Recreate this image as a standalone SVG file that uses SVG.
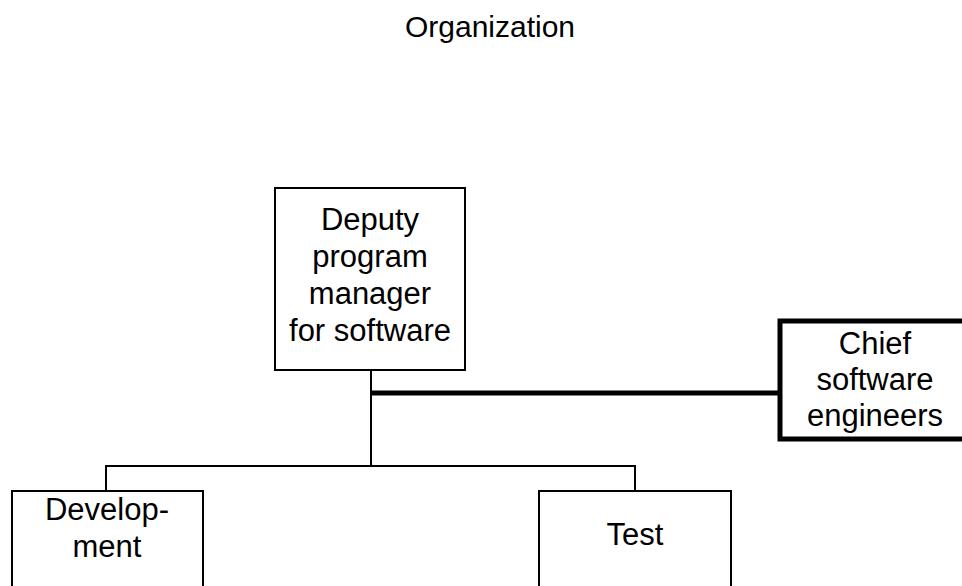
<svg xmlns="http://www.w3.org/2000/svg" width="962" height="586" viewBox="0 0 962 586">
<style>
text{font-family:"Liberation Sans",Arial,sans-serif;font-size:31px;fill:#000;text-anchor:middle}
.box{fill:#fff;stroke:#000;stroke-width:2}
.thick{fill:#fff;stroke:#000;stroke-width:5}
.ln{fill:none;stroke:#000;stroke-width:2}
.tl{fill:none;stroke:#000;stroke-width:5}
</style>
<rect width="962" height="586" fill="#fff"/>
<text id="title" x="490" y="37" style="font-size:30px">Organization</text>
<g id="connectors">
<line class="ln" x1="371" y1="370" x2="371" y2="466"/>
<line class="tl" x1="371" y1="393" x2="780" y2="393"/>
<polyline class="ln" points="106,491 106,466 635,466 635,491"/>
</g>
<g id="deputy">
<rect class="box" x="275" y="188" width="190" height="182"/>
<text x="370" y="230">Deputy</text>
<text x="370" y="267">program</text>
<text x="370" y="304">manager</text>
<text x="370" y="341">for software</text>
</g>
<g id="chief">
<rect class="thick" x="780" y="321" width="192" height="118"/>
<text x="875" y="354">Chief</text>
<text x="875" y="390">software</text>
<text x="875" y="426">engineers</text>
</g>
<g id="development">
<rect class="box" x="12" y="491" width="191" height="110"/>
<text x="107" y="520">Develop-</text>
<text x="107" y="557">ment</text>
</g>
<g id="test">
<rect class="box" x="539" y="491" width="192" height="110"/>
<text x="635" y="545">Test</text>
</g>
</svg>
